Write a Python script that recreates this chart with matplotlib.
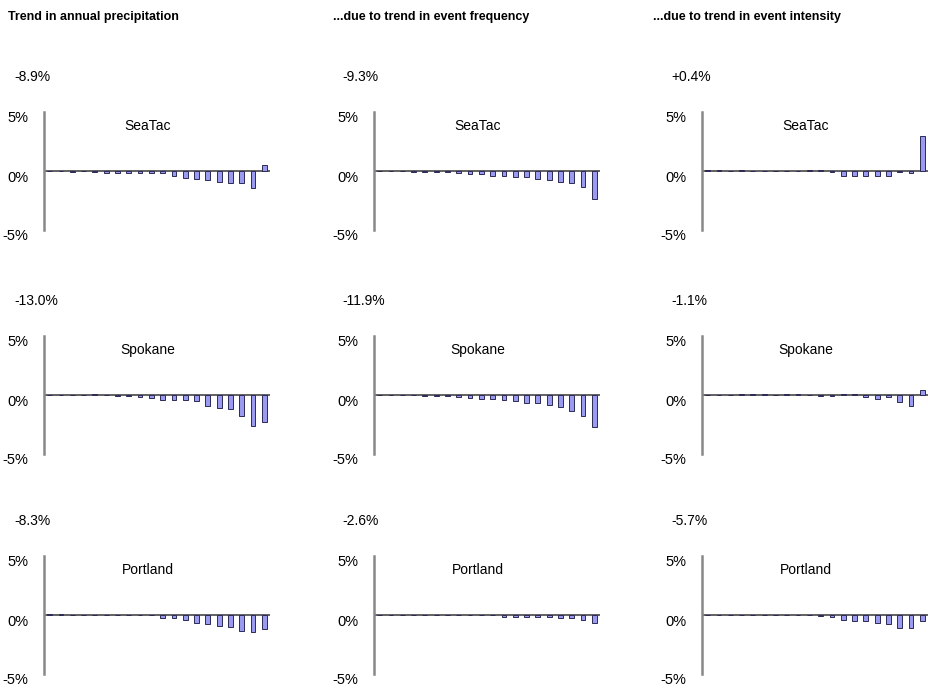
import numpy as np
import matplotlib.pyplot as plt
import matplotlib.transforms as mtransforms

plt.rcParams['font.family'] = ['Liberation Sans', 'DejaVu Sans']

# contribution of each precipitation bin (20 bins), % change
stations = ['SeaTac', 'Spokane', 'Portland']
columns = ['Trend in annual precipitation',
           '...due to trend in event frequency',
           '...due to trend in event intensity']

seatac_total = [0, 0, -0.08, 0, -0.08, -0.2, -0.2, -0.2, -0.2, -0.2,
                -0.2, -0.4, -0.6, -0.7, -0.75, -0.95, -1.05, -1.05, -1.45, 0.5]
seatac_freq = [0, 0, 0, -0.08, -0.08, -0.08, -0.08, -0.2, -0.25, -0.25,
               -0.4, -0.4, -0.5, -0.5, -0.7, -0.8, -0.9, -1.0, -1.35, -2.4]
seatac_int = [0.06, 0.06, 0, 0.06, 0, 0, 0, 0, 0, 0.06,
              0.06, -0.06, -0.4, -0.4, -0.4, -0.45, -0.45, -0.06, -0.15, 3.0]

spokane_total = [0, 0, 0, 0, 0.05, 0, -0.08, -0.1, -0.15, -0.28,
                 -0.4, -0.45, -0.4, -0.5, -0.9, -1.1, -1.2, -1.8, -2.6, -2.3]
spokane_freq = [0, 0, 0, 0, -0.06, -0.08, -0.1, -0.2, -0.25, -0.3,
                -0.3, -0.45, -0.55, -0.65, -0.7, -0.85, -1.0, -1.35, -1.75, -2.7]
spokane_int = [0, 0, 0, 0.05, 0.05, 0.05, 0, 0.05, 0.05, 0,
               -0.05, -0.05, 0.05, 0.05, -0.2, -0.35, -0.2, -0.6, -0.9, 0.4]

portland_total = [0.06, 0.06, 0, 0, 0, 0, 0, 0, 0, 0,
                  -0.25, -0.25, -0.45, -0.65, -0.75, -0.95, -1.05, -1.35, -1.45, -1.15]
portland_freq = [0, 0, 0, 0, 0, 0, 0, 0, 0, 0,
                 0, -0.15, -0.15, -0.15, -0.15, -0.15, -0.25, -0.25, -0.4, -0.65]
portland_int = [0, 0, 0, 0, 0, 0, 0, 0, 0, 0,
                -0.05, -0.2, -0.4, -0.5, -0.55, -0.7, -0.8, -1.1, -1.1, -0.5]

data = [[seatac_total, seatac_freq, seatac_int],
        [spokane_total, spokane_freq, spokane_int],
        [portland_total, portland_freq, portland_int]]

totals = [['-8.9%', '-9.3%', '+0.4%'],
          ['-13.0%', '-11.9%', '-1.1%'],
          ['-8.3%', '-2.6%', '-5.7%']]

W, H = 929, 689
fig = plt.figure(figsize=(W / 100, H / 100), dpi=100)

ax_left = [44, 374, 702]
ax_top = [112, 336, 556]
ax_w, ax_h = 226, 118
title_x = [8, 333, 653]
label_x = [14, 342, 671]

for j, title in enumerate(columns):
    fig.text(title_x[j] / W, 1 - 17 / H, title, fontsize=9, fontweight='bold',
             va='center', ha='left')

# tick labels sit a few pixels below their tick positions
shift = mtransforms.ScaledTranslation(0, -5 / 100, fig.dpi_scale_trans)

for i, name in enumerate(stations):
    for j in range(3):
        vals = np.array(data[i][j])
        ax = fig.add_axes([ax_left[j] / W, 1 - (ax_top[i] + ax_h) / H, ax_w / W, ax_h / H])
        x = np.arange(len(vals))
        ax.bar(x, vals, width=0.42, color='#9a9af0', edgecolor='#2a2a55', linewidth=0.7, zorder=3)
        ax.axhline(0, color='#555555', lw=1.3, zorder=2)
        ax.set_xlim(-0.5, len(vals) - 0.5)
        ax.set_ylim(-5, 5)
        for s in ['top', 'right', 'bottom']:
            ax.spines[s].set_visible(False)
        ax.spines['left'].set_color('#888888')
        ax.spines['left'].set_linewidth(1.8)
        ax.set_xticks([])
        ax.set_yticks([-5, 0, 5])
        ax.set_yticklabels(['-5%', '0%', '5%'])
        ax.tick_params(axis='y', length=0, pad=11, labelsize=10.5)
        for lab in ax.get_yticklabels():
            lab.set_transform(lab.get_transform() + shift)
        ax.text(0.46, 0.885, name, transform=ax.transAxes, ha='center', va='center', fontsize=10)
        fig.text(label_x[j] / W, 1 - (ax_top[i] - 35) / H, totals[i][j], fontsize=10,
                 ha='left', va='center')

fig.savefig('out.png', dpi=100)
